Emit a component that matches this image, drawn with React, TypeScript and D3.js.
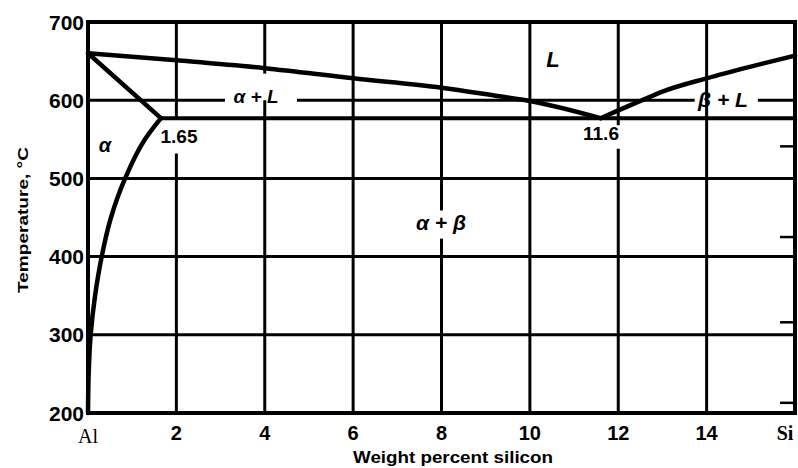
import * as d3 from "d3";

// Al–Si phase diagram
const xTicks = [2, 4, 6, 8, 10, 12, 14];
const yTicks = [200, 300, 400, 500, 600, 700];

const liquidusAl: [number, number][] = [
  [0, 660], [2, 651], [4, 641], [6, 628], [8, 616], [9.3, 605], [10, 599], [11.6, 577],
];
const liquidusSi: [number, number][] = [
  [11.6, 577], [12, 587], [12.5, 599], [13, 611], [14, 628], [15, 643], [16, 657],
];
const solidus: [number, number][] = [[0, 660], [1.65, 577]];
const eutectic: [number, number][] = [[1.65, 577], [16, 577]];
const solvus: [number, number][] = [
  [1.65, 577], [1.29, 550], [0.84, 500], [0.52, 450], [0.31, 400], [0.16, 350], [0.06, 300], [0.015, 250], [0, 200],
];

// places where the grid is broken for a label
const vGaps: { x: number; t: [number, number] }[] = [
  { x: 2, t: [532, 577] },
  { x: 4, t: [600, 634] },
  { x: 8, t: [423, 459] },
  { x: 12, t: [538, 568] },
];
const hGaps: { t: number; x: [number, number] }[] = [
  { t: 600, x: [3.1, 4.73] },
  { t: 600, x: [13.73, 15.16] },
];
const edgeMarks = [541, 425, 316, 213];

const W = 798;
const H = 468;

const x = d3.scaleLinear().domain([0, 16]).range([88, 795]);
const y = d3.scaleLinear().domain([200, 700]).range([413, 22]);

function split(lo: number, hi: number, gaps: [number, number][]) {
  const out: [number, number][] = [];
  let start = lo;
  gaps.slice().sort((a, b) => a[0] - b[0]).forEach(([a, b]) => {
    out.push([start, a]);
    start = b;
  });
  out.push([start, hi]);
  return out;
}

const lineX = d3.line<[number, number]>().x((d) => x(d[0])).y((d) => y(d[1])).curve(d3.curveMonotoneX);
const lineY = d3.line<[number, number]>().x((d) => x(d[0])).y((d) => y(d[1])).curve(d3.curveMonotoneY);

const sans = "'Liberation Sans', Arial, sans-serif";
const serif = "'Liberation Serif', 'Times New Roman', serif";
const label = { fontFamily: sans, fontWeight: 700, fontStyle: "italic" as const };

export default function App() {
  return (
    <svg width={W} height={H} style={{ position: "absolute", left: 0, top: 0, background: "#fff" }}>
      <g stroke="#000" strokeWidth={3} strokeLinecap="butt">
        {xTicks.map((v) =>
          split(200, 700, vGaps.filter((g) => g.x === v).map((g) => g.t)).map(([a, b], i) => (
            <line key={`v${v}-${i}`} x1={x(v)} x2={x(v)} y1={y(a)} y2={y(b)} />
          ))
        )}
        {yTicks.slice(1, -1).map((t) =>
          split(0, 16, hGaps.filter((g) => g.t === t).map((g) => g.x)).map(([a, b], i) => (
            <line key={`h${t}-${i}`} x1={x(a)} x2={x(b)} y1={y(t)} y2={y(t)} />
          ))
        )}
        {edgeMarks.map((t) => (
          <line key={`m${t}`} x1={x(16) - 15} x2={x(16)} y1={y(t)} y2={y(t)} strokeWidth={2.5} />
        ))}
      </g>
      <rect x={x(0)} y={y(700)} width={x(16) - x(0)} height={y(200) - y(700)} fill="none" stroke="#000" strokeWidth={4} />

      <g fill="none" stroke="#000" strokeWidth={4.5} strokeLinejoin="round" strokeLinecap="round">
        <path d={lineX(liquidusAl)!} />
        <path d={lineX(liquidusSi)!} />
        <path d={lineX(solidus)!} />
        <path d={lineX(eutectic)!} strokeWidth={4} />
        <path d={lineY(solvus.slice().reverse())!} />
      </g>

      {yTicks.map((t) => (
        <text key={t} x={84} y={y(t)} dy="0.36em" textAnchor="end" fontFamily={sans} fontWeight={700} fontSize={21}>
          {t}
        </text>
      ))}
      {xTicks.map((v) => (
        <text key={v} x={x(v)} y={440} textAnchor="middle" fontFamily={sans} fontWeight={700} fontSize={20}>
          {v}
        </text>
      ))}
      <text x={x(0)} y={443} textAnchor="middle" fontFamily={serif} fontSize={20}>Al</text>
      <text x={x(16) - 10} y={440} textAnchor="middle" fontFamily={serif} fontWeight={700} fontSize={20}>Si</text>

      <text x={453} y={463} textAnchor="middle" fontFamily={sans} fontWeight={700} fontSize={16} textLength={200} lengthAdjust="spacingAndGlyphs">
        Weight percent silicon
      </text>
      <text transform="translate(28,220) rotate(-90)" textAnchor="middle" fontFamily={sans} fontWeight={700} fontSize={15} textLength={146} lengthAdjust="spacingAndGlyphs">
        Temperature, °C
      </text>

      <text x={105} y={152} textAnchor="middle" {...label} fontSize={20}>α</text>
      <text x={256} y={103} textAnchor="middle" {...label} fontSize={19}>α + L</text>
      <text x={553} y={67} textAnchor="middle" {...label} fontSize={22}>L</text>
      <text x={723} y={107} textAnchor="middle" {...label} fontSize={21}>β + L</text>
      <text x={441} y={230} textAnchor="middle" {...label} fontSize={21}>α + β</text>
      <text x={179} y={143} textAnchor="middle" fontFamily={sans} fontWeight={700} fontSize={19}>1.65</text>
      <text x={601} y={140} textAnchor="middle" fontFamily={sans} fontWeight={700} fontSize={19}>11.6</text>
    </svg>
  );
}
